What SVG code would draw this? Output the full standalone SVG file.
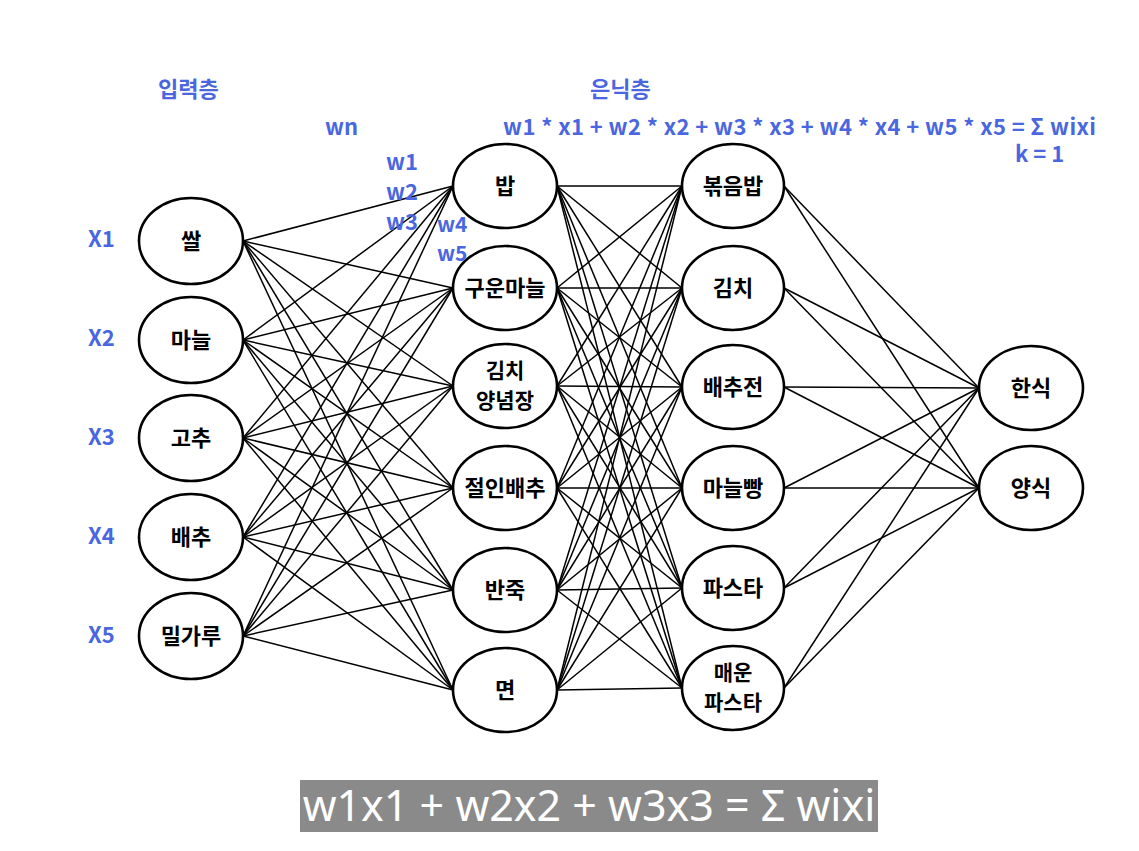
<svg xmlns="http://www.w3.org/2000/svg" width="1139" height="851" viewBox="0 0 1139 851">
<style>
.node ellipse{fill:#fff;stroke:#000;stroke-width:2.6}
.node text{font-family:"Noto Sans CJK KR","Noto Sans",sans-serif;font-weight:bold;font-size:22px;fill:#000;text-anchor:middle}
.node text.two{font-size:21px}
.lbl{font-family:"Noto Sans CJK KR","Noto Sans",sans-serif;font-weight:bold;font-size:22px;fill:#4a67e0}
.sm{font-size:21px}
#connectors line{stroke:#000;stroke-width:1.5}
</style>
<rect width="1139" height="851" fill="#fff"/>
<g id="connectors">
<line x1="243" y1="241" x2="453" y2="186"/><line x1="243" y1="241" x2="453" y2="288"/><line x1="243" y1="241" x2="453" y2="386"/><line x1="243" y1="241" x2="453" y2="488"/><line x1="243" y1="241" x2="453" y2="590"/><line x1="243" y1="241" x2="453" y2="690"/>
<line x1="243" y1="340" x2="453" y2="186"/><line x1="243" y1="340" x2="453" y2="288"/><line x1="243" y1="340" x2="453" y2="386"/><line x1="243" y1="340" x2="453" y2="488"/><line x1="243" y1="340" x2="453" y2="590"/><line x1="243" y1="340" x2="453" y2="690"/>
<line x1="243" y1="438" x2="453" y2="186"/><line x1="243" y1="438" x2="453" y2="288"/><line x1="243" y1="438" x2="453" y2="386"/><line x1="243" y1="438" x2="453" y2="488"/><line x1="243" y1="438" x2="453" y2="590"/><line x1="243" y1="438" x2="453" y2="690"/>
<line x1="243" y1="537" x2="453" y2="186"/><line x1="243" y1="537" x2="453" y2="288"/><line x1="243" y1="537" x2="453" y2="386"/><line x1="243" y1="537" x2="453" y2="488"/><line x1="243" y1="537" x2="453" y2="590"/><line x1="243" y1="537" x2="453" y2="690"/>
<line x1="243" y1="636" x2="453" y2="186"/><line x1="243" y1="636" x2="453" y2="288"/><line x1="243" y1="636" x2="453" y2="386"/><line x1="243" y1="636" x2="453" y2="488"/><line x1="243" y1="636" x2="453" y2="590"/><line x1="243" y1="636" x2="453" y2="690"/>
<line x1="557" y1="186" x2="682" y2="186"/><line x1="557" y1="186" x2="682" y2="288"/><line x1="557" y1="186" x2="682" y2="387"/><line x1="557" y1="186" x2="682" y2="488"/><line x1="557" y1="186" x2="682" y2="588"/><line x1="557" y1="186" x2="682" y2="688"/>
<line x1="557" y1="288" x2="682" y2="186"/><line x1="557" y1="288" x2="682" y2="288"/><line x1="557" y1="288" x2="682" y2="387"/><line x1="557" y1="288" x2="682" y2="488"/><line x1="557" y1="288" x2="682" y2="588"/><line x1="557" y1="288" x2="682" y2="688"/>
<line x1="557" y1="386" x2="682" y2="186"/><line x1="557" y1="386" x2="682" y2="288"/><line x1="557" y1="386" x2="682" y2="387"/><line x1="557" y1="386" x2="682" y2="488"/><line x1="557" y1="386" x2="682" y2="588"/><line x1="557" y1="386" x2="682" y2="688"/>
<line x1="557" y1="488" x2="682" y2="186"/><line x1="557" y1="488" x2="682" y2="288"/><line x1="557" y1="488" x2="682" y2="387"/><line x1="557" y1="488" x2="682" y2="488"/><line x1="557" y1="488" x2="682" y2="588"/><line x1="557" y1="488" x2="682" y2="688"/>
<line x1="557" y1="590" x2="682" y2="186"/><line x1="557" y1="590" x2="682" y2="288"/><line x1="557" y1="590" x2="682" y2="387"/><line x1="557" y1="590" x2="682" y2="488"/><line x1="557" y1="590" x2="682" y2="588"/><line x1="557" y1="590" x2="682" y2="688"/>
<line x1="557" y1="690" x2="682" y2="186"/><line x1="557" y1="690" x2="682" y2="288"/><line x1="557" y1="690" x2="682" y2="387"/><line x1="557" y1="690" x2="682" y2="488"/><line x1="557" y1="690" x2="682" y2="588"/><line x1="557" y1="690" x2="682" y2="688"/>
<line x1="784" y1="186" x2="979" y2="388"/><line x1="784" y1="186" x2="979" y2="488"/>
<line x1="784" y1="288" x2="979" y2="388"/><line x1="784" y1="288" x2="979" y2="488"/>
<line x1="784" y1="387" x2="979" y2="388"/><line x1="784" y1="387" x2="979" y2="488"/>
<line x1="784" y1="488" x2="979" y2="388"/><line x1="784" y1="488" x2="979" y2="488"/>
<line x1="784" y1="588" x2="979" y2="388"/><line x1="784" y1="588" x2="979" y2="488"/>
<line x1="784" y1="688" x2="979" y2="388"/><line x1="784" y1="688" x2="979" y2="488"/>
</g>
<g id="in1" class="node"><ellipse cx="191" cy="241" rx="52" ry="43"/><text x="191" y="249">쌀</text></g>
<g id="in2" class="node"><ellipse cx="191" cy="340" rx="52" ry="43"/><text x="191" y="348">마늘</text></g>
<g id="in3" class="node"><ellipse cx="191" cy="438" rx="52" ry="43"/><text x="191" y="446">고추</text></g>
<g id="in4" class="node"><ellipse cx="191" cy="537" rx="52" ry="43"/><text x="191" y="545">배추</text></g>
<g id="in5" class="node"><ellipse cx="191" cy="636" rx="52" ry="43"/><text x="191" y="644">밀가루</text></g>
<g id="h1" class="node"><ellipse cx="505" cy="186" rx="52" ry="42"/><text x="505" y="194">밥</text></g>
<g id="h2" class="node"><ellipse cx="505" cy="288" rx="52" ry="42"/><text x="505" y="296">구운마늘</text></g>
<g id="h3" class="node"><ellipse cx="505" cy="386" rx="52" ry="42"/><text class="two" x="505" y="378">김치</text><text class="two" x="505" y="408">양념장</text></g>
<g id="h4" class="node"><ellipse cx="505" cy="488" rx="52" ry="42"/><text x="505" y="496">절인배추</text></g>
<g id="h5" class="node"><ellipse cx="505" cy="590" rx="52" ry="42"/><text x="505" y="598">반죽</text></g>
<g id="h6" class="node"><ellipse cx="505" cy="690" rx="52" ry="42"/><text x="505" y="698">면</text></g>
<g id="k1" class="node"><ellipse cx="733" cy="186" rx="51" ry="42"/><text x="733" y="194">볶음밥</text></g>
<g id="k2" class="node"><ellipse cx="733" cy="288" rx="51" ry="42"/><text x="733" y="296">김치</text></g>
<g id="k3" class="node"><ellipse cx="733" cy="387" rx="51" ry="42"/><text x="733" y="395">배추전</text></g>
<g id="k4" class="node"><ellipse cx="733" cy="488" rx="51" ry="42"/><text x="733" y="496">마늘빵</text></g>
<g id="k5" class="node"><ellipse cx="733" cy="588" rx="51" ry="42"/><text x="733" y="596">파스타</text></g>
<g id="k6" class="node"><ellipse cx="733" cy="688" rx="51" ry="42"/><text class="two" x="733" y="680">매운</text><text class="two" x="733" y="710">파스타</text></g>
<g id="o1" class="node"><ellipse cx="1031" cy="388" rx="52" ry="42"/><text x="1031" y="396">한식</text></g>
<g id="o2" class="node"><ellipse cx="1031" cy="488" rx="52" ry="42"/><text x="1031" y="496">양식</text></g>
<g id="labels">
<text class="lbl" x="158" y="97">입력층</text>
<text class="lbl" x="590" y="97">은닉층</text>
<text class="lbl" x="325" y="135">wn</text>
<text class="lbl" x="503" y="135" textLength="593" lengthAdjust="spacing">w1 * x1 + w2 * x2 + w3 * x3 + w4 * x4 + w5 * x5 = Σ wixi</text>
<text class="lbl" x="1015" y="162">k = 1</text>
<text class="lbl" x="386" y="170">w1</text>
<text class="lbl" x="386" y="200">w2</text>
<text class="lbl" x="386" y="230">w3</text>
<text class="lbl sm" x="437" y="232">w4</text>
<text class="lbl sm" x="437" y="261">w5</text>
<text class="lbl" x="88" y="247">X1</text>
<text class="lbl" x="88" y="346">X2</text>
<text class="lbl" x="88" y="445">X3</text>
<text class="lbl" x="88" y="544">X4</text>
<text class="lbl" x="88" y="643">X5</text>
</g>
<g id="banner">
<rect x="300" y="780" width="578" height="52" fill="#8a8a8a"/>
<text x="589" y="821" font-family="Noto Sans, sans-serif" font-size="43" fill="#fff" text-anchor="middle">w1x1 + w2x2 + w3x3 = Σ wixi</text>
</g>
</svg>
